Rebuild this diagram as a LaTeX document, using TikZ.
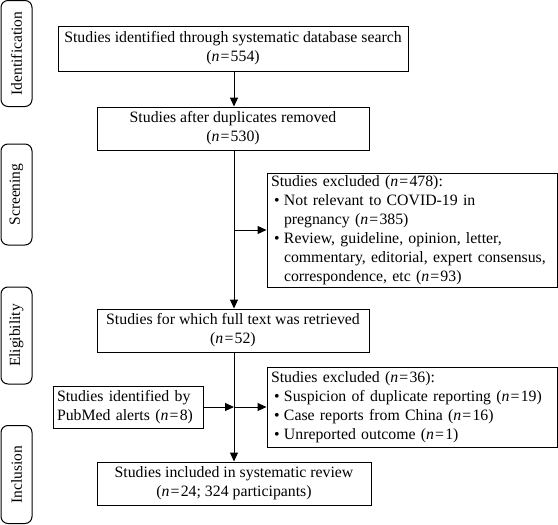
\documentclass[tikz,border=0pt]{standalone}
\usepackage{fontspec}
\setmainfont{Liberation Serif}
\usetikzlibrary{arrows.meta}
\newcommand{\nn}[1]{\textit{n}\kern1.2pt=\kern1.2pt#1}
\newcommand{\bl}{\makebox[10pt][l]{\textbullet}}
\tikzset{
  box/.style={draw, line width=1pt, align=center, inner sep=0pt, font=\fontsize{15.8}{19}\selectfont},
  lbox/.style={draw, line width=1pt, align=left, inner sep=0pt, font=\fontsize{15.8}{19}\selectfont},
  side/.style={draw, line width=1pt, rounded corners=7pt, inner sep=0pt, font=\fontsize{15.5}{18}\selectfont},
  arr/.style={line width=1pt, -{Triangle[length=9pt,width=8pt]}},
  ln/.style={line width=1pt}
}
\begin{document}
\begin{tikzpicture}[x=1pt,y=-1pt]
\useasboundingbox (0,0) rectangle (558,525);
% side labels
\node[side, minimum width=106pt, minimum height=31pt, rotate=90] (s1) at (16.5,53.5) {Identification};
\node[side, minimum width=101pt, minimum height=31pt, rotate=90] (s2) at (16.5,194.5) {Screening};
\node[side, minimum width=97pt, minimum height=31pt, rotate=90] (s3) at (16.5,335.5) {Eligibility};
\node[side, minimum width=98pt, minimum height=31pt, rotate=90] (s4) at (16.5,474.5) {Inclusion};
% main boxes
\node[box, minimum width=350pt, minimum height=45pt] (b1) at (233,48.5) {Studies identified through systematic database search\\(\nn{554})};
\node[box, minimum width=272pt, minimum height=43pt] (b2) at (233,128.5) {Studies after duplicates removed\\(\nn{530})};
\node[lbox, minimum width=290pt, minimum height=114pt, text width=282pt] (e1) at (412,230) {Studies excluded (\nn{478}):\\
\hspace*{3pt}\bl Not relevant to COVID-19 in\\
\hspace*{3pt}\hspace*{10pt}pregnancy (\nn{385})\\
\hspace*{3pt}\bl Review, guideline, opinion, letter,\\
\hspace*{3pt}\hspace*{10pt}commentary, editorial, expert consensus,\\
\hspace*{3pt}\hspace*{10pt}correspondence, etc (\nn{93})};
\node[box, minimum width=272pt, minimum height=43pt] (b3) at (233,330.5) {Studies for which full text was retrieved\\(\nn{52})};
\node[lbox, minimum width=150pt, minimum height=42pt, text width=142pt] (pm) at (128,407) {Studies identified by\\PubMed alerts (\nn{8})};
\node[lbox, minimum width=290pt, minimum height=80pt, text width=282pt] (e2) at (412,407) {Studies excluded (\nn{36}):\\
\hspace*{3pt}\bl Suspicion of duplicate reporting (\nn{19})\\
\hspace*{3pt}\bl Case reports from China (\nn{16})\\
\hspace*{3pt}\bl Unreported outcome (\nn{1})};
\node[box, minimum width=274pt, minimum height=43pt] (b4) at (234,483.5) {Studies included in systematic review\\(\nn{24}; 324 participants)};
% connectors
\coordinate (j1) at (234,230);
\coordinate (j2) at (234,407);
\draw[arr] (b1.south -| j1) -- (b2.north -| j1);
\draw[ln] (b2.south -| j1) -- (j1);
\draw[arr] (j1) -- (e1.west);
\draw[arr] (j1) -- (b3.north -| j1);
\draw[arr] (b3.south -| j2) -- (b4.north -| j2);
\draw[arr] (pm.east) -- (j2);
\draw[arr] (j2) -- (e2.west);
\end{tikzpicture}
\end{document}
